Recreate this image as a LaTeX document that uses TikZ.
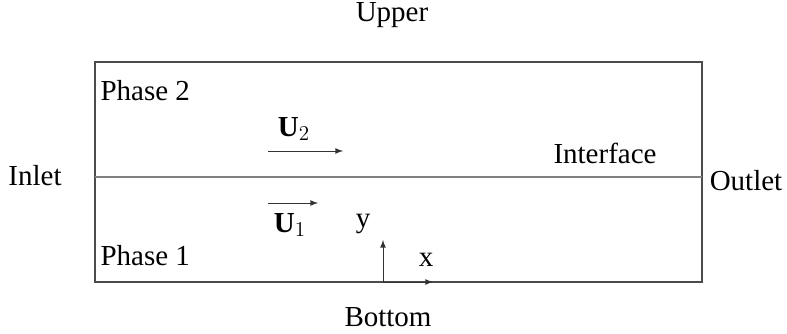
\documentclass[tikz,border=0pt]{standalone}
\usepackage{fontspec}
\setmainfont{Liberation Serif}
\usepackage{amsmath}
\begin{document}
\begin{tikzpicture}[x=0.02cm,y=-0.02cm,line width=0.6pt,
  lbl/.style={font=\fontsize{16.5}{19}\selectfont,inner sep=0pt},
  vec/.style={->,>=latex,line width=0.5pt,draw=black!80}]

        \useasboundingbox (0,0) rectangle (787,334);

        % ------------------------------------------------ channel
        \draw[black!70] (95,62) rectangle (702,282);
        \draw[black!50] (95,177) -- (702,177);

        \node[lbl] (upper)  at (392,15)  {Upper};
        \node[lbl] (bottom) at (388,317) {Bottom};
        \node[lbl] (inlet)  at (35,176)  {Inlet};
        \node[lbl] (outlet) at (746,181) {Outlet};
        \node[lbl] (interface) at (605,153) {Interface};
        \node[lbl,anchor=west] (phase2) at (100,91)  {Phase 2};
        \node[lbl,anchor=west] (phase1) at (100,256) {Phase 1};

        % ------------------------------------------------ velocities
        \coordinate (u2s) at (268,151);
        \coordinate (u2e) at (343,151);
        \coordinate (u1s) at (268,203);
        \coordinate (u1e) at (318,203);
        \draw[vec] (u2s) -- (u2e);
        \draw[vec] (u1s) -- (u1e);
        \node[lbl] (u2) at (294,129) {$\mathbf{U}_2$};
        \node[lbl] (u1) at (290,225) {$\mathbf{U}_1$};

        % ------------------------------------------------ axes
        \coordinate (o)  at (383,282);
        \coordinate (ye) at (383,240);
        \coordinate (xe) at (433,282);
        \draw[vec] (o) -- (ye);
        \draw[vec] (o) -- (xe);
        \node[lbl] (ylab) at (363,224) {y};
        \node[lbl] (xlab) at (426,260) {x};

        \end{tikzpicture}
\end{document}
